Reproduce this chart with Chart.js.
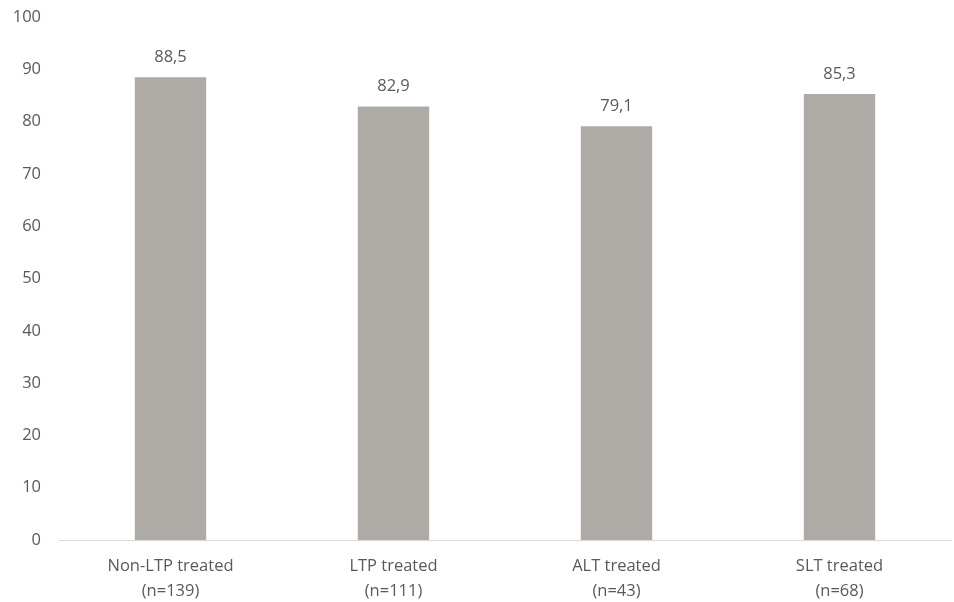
<!DOCTYPE html>
<html><head><meta charset="utf-8">
<script src="https://cdn.jsdelivr.net/npm/chart.js@4/dist/chart.umd.min.js"></script>
<style>html,body{margin:0;padding:0;background:#fff;}#wrap{width:954px;height:602px;}</style>
</head><body><div id="wrap"><canvas id="c" width="954" height="602"></canvas></div>
<script>
const categories = [["Non-LTP treated","(n=139)"],["LTP treated","(n=111)"],["ALT treated","(n=43)"],["SLT treated","(n=68)"]];
const values = [88.5, 82.9, 79.1, 85.3];
const yTicks = [0,10,20,30,40,50,60,70,80,90,100];

const FONT = "'Open Sans', 'Liberation Sans', sans-serif";
const TXT = '#595959';

const labelPlugin = {
  id: 'valueLabels',
  afterDatasetsDraw(chart) {
    const ctx = chart.ctx;
    const meta = chart.getDatasetMeta(0);
    ctx.save();
    ctx.font = '16.5px ' + FONT;
    ctx.fillStyle = TXT;
    ctx.textAlign = 'center';
    ctx.textBaseline = 'middle';
    meta.data.forEach((bar, i) => {
      ctx.fillText(values[i].toFixed(1).replace('.', ','), bar.x, bar.y - 20);
    });
    ctx.restore();
  }
};

new Chart(document.getElementById('c'), {
  type: 'bar',
  data: {
    labels: categories,
    datasets: [{
      data: values,
      backgroundColor: '#AEAAA6',
      categoryPercentage: 1.0,
      barPercentage: 0.32
    }]
  },
  options: {
    responsive: false,
    animation: false,
    devicePixelRatio: 1,
    layout: { padding: { top: 17, right: 3, left: 0, bottom: 0 } },
    plugins: { legend: { display: false }, tooltip: { enabled: false } },
    scales: {
      x: {
        afterFit(axis) { axis.height = 62; },
        grid: { display: false, drawTicks: false },
        border: { display: true, color: '#D9D9D9', width: 1 },
        ticks: { color: TXT, font: { family: FONT, size: 16.5, lineHeight: 1.52 }, padding: 14, maxRotation: 0 }
      },
      y: {
        min: 0, max: 100,
        afterBuildTicks(axis) { axis.ticks = yTicks.map(v => ({ value: v })); },
        afterFit(axis) { axis.width = 59; axis.paddingTop = 0; axis.paddingBottom = 0; },
        grid: { display: false, drawTicks: false },
        border: { display: false },
        ticks: { color: TXT, font: { family: FONT, size: 16.5 }, padding: 18 }
      }
    }
  },
  plugins: [labelPlugin]
});
</script>
</body></html>
